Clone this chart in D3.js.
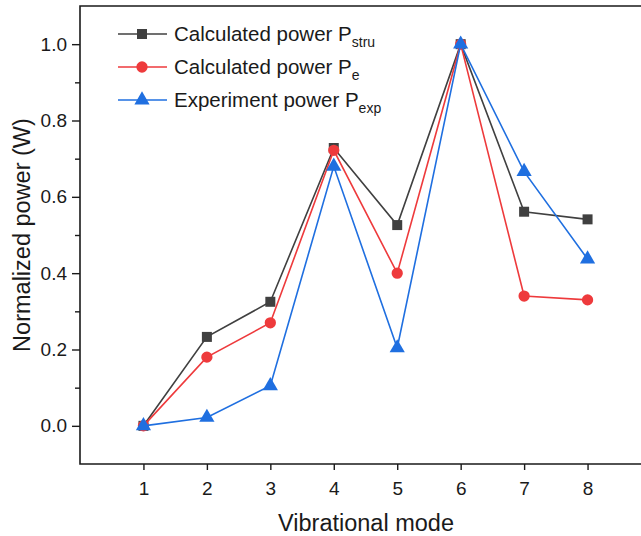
<!DOCTYPE html>
<html>
<head>
<meta charset="utf-8">
<script src="https://cdn.jsdelivr.net/npm/d3@7"></script>
<style>
  body { margin: 0; background: #fff; }
  text { font-family: "Liberation Sans", Arial, sans-serif; fill: #1a1a1a; }
</style>
</head>
<body>
<script>
const modes = [1, 2, 3, 4, 5, 6, 7, 8];
const pStru = [0, 0.233, 0.325, 0.728, 0.526, 1.0, 0.561, 0.541];
const pE    = [0, 0.18, 0.27, 0.722, 0.40, 1.0, 0.34, 0.33];
const pExp  = [0, 0.022, 0.105, 0.68, 0.204, 1.0, 0.666, 0.437];
const yTicks = [0, 0.2, 0.4, 0.6, 0.8, 1.0];

const width = 641, height = 536;

var x = d3.scaleLinear().domain([0, 9]).range([80, 651]);
var y = d3.scaleLinear().domain([-0.1, 1.1]).range([464, 6]);

var svg = d3.select("body").append("svg")
    .attr("width", width)
    .attr("height", height);

// frame (right side runs off the picture)
svg.append("path")
    .attr("d", "M" + x(9) + "," + y(1.1) + "H" + x(0) + "V" + y(-0.1) + "H" + x(9))
    .attr("fill", "none")
    .attr("stroke", "#1a1a1a")
    .attr("stroke-width", 1.6);

// y axis
svg.append("g")
    .attr("transform", "translate(" + x(0) + ",0)")
    .call(d3.axisLeft(y).tickValues(yTicks).tickFormat(d3.format(".1f")).tickSize(8).tickPadding(5));
svg.append("g")
    .attr("transform", "translate(" + x(0) + ",0)")
    .call(d3.axisLeft(y).tickValues([0.1, 0.3, 0.5, 0.7, 0.9]).tickFormat("").tickSize(5));

// x axis
svg.append("g")
    .attr("transform", "translate(0," + y(-0.1) + ")")
    .call(d3.axisBottom(x).tickValues(modes).tickFormat(d3.format("d")).tickSize(6).tickPadding(12));

svg.selectAll(".domain").remove();
svg.selectAll(".tick line").attr("stroke", "#1a1a1a").attr("stroke-width", 1.4);
svg.selectAll(".tick text").style("font-size", "19px").attr("fill", "#1a1a1a")
    .style("font-family", "'Liberation Sans', Arial, sans-serif");

svg.append("text")
    .attr("x", 366)
    .attr("y", 531)
    .attr("text-anchor", "middle")
    .style("font-size", "23.5px")
    .text("Vibrational mode");

svg.append("text")
    .attr("transform", "translate(30," + y(0.5) + ") rotate(-90)")
    .attr("text-anchor", "middle")
    .style("font-size", "23.5px")
    .text("Normalized power (W)");

const series = [
  { name: "Calculated power P", sub: "stru", values: pStru, color: "#404040", shape: d3.symbolSquare, size: 100 },
  { name: "Calculated power P", sub: "e",    values: pE,    color: "#ee3a3c", shape: d3.symbolCircle, size: 100 },
  { name: "Experiment power P", sub: "exp",  values: pExp,  color: "#1f6fe0", shape: d3.symbolTriangle, size: 100 }
];

var line = d3.line()
    .x(function (d, i) { return x(modes[i]); })
    .y(function (d) { return y(d); });

series.forEach(function (s) {
  var g = svg.append("g");
  g.append("path")
      .datum(s.values)
      .attr("d", line)
      .attr("fill", "none")
      .attr("stroke", s.color)
      .attr("stroke-width", 1.6);
  g.selectAll("path.pt")
      .data(s.values)
      .enter().append("path")
      .attr("class", "pt")
      .attr("d", d3.symbol().type(s.shape).size(s.size))
      .attr("transform", function (d, i) { return "translate(" + x(modes[i]) + "," + y(d) + ")"; })
      .attr("fill", s.color);
});

// legend
var legend = svg.append("g");
series.forEach(function (s, i) {
  var ly = 34 + i * 33;
  legend.append("line")
      .attr("x1", 118).attr("x2", 167)
      .attr("y1", ly).attr("y2", ly)
      .attr("stroke", s.color).attr("stroke-width", 1.6);
  legend.append("path")
      .attr("d", d3.symbol().type(s.shape).size(s.size))
      .attr("transform", "translate(142," + ly + ")")
      .attr("fill", s.color);
  var t = legend.append("text")
      .attr("x", 174)
      .attr("y", ly + 7)
      .style("font-size", "20.5px");
  t.append("tspan").text(s.name);
  t.append("tspan").attr("dy", 6).style("font-size", "14px").text(s.sub);
});
</script>
</body>
</html>
